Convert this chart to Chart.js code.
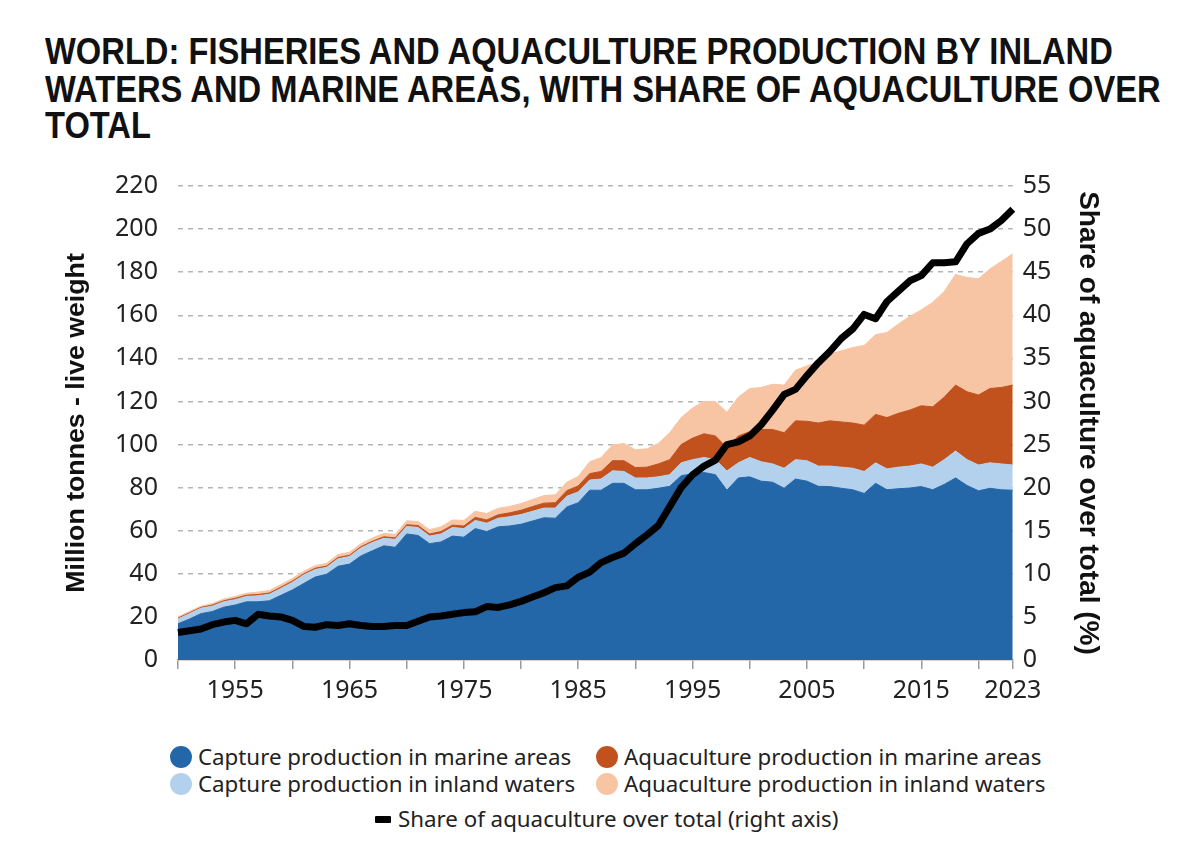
<!DOCTYPE html>
<html>
<head>
<meta charset="utf-8">
<script src="https://cdn.jsdelivr.net/npm/chart.js@4.4.0/dist/chart.umd.min.js"></script>
<style>
  body { margin: 0; background: #fff; width: 1200px; height: 850px; overflow: hidden; position: relative; }
  #title {
    position: absolute; left: 45px; top: 33px;
    font-family: 'Liberation Sans', Arial, sans-serif;
    font-weight: bold; font-size: 32.7px; line-height: 33.5px; color: #111;
    white-space: nowrap; transform: scaleY(1.11); transform-origin: 0 0;
  }
  #wrap { position: absolute; left: 0; top: 150px; width: 1200px; height: 566px; }
  .lg { position: absolute; font-family: 'Noto Sans', sans-serif; font-size: 22.3px; color: #222; white-space: nowrap; line-height: 26px; }
  .lg i { position: absolute; left: -28px; top: 2px; width: 22px; height: 22px; border-radius: 50%; }
  .lg i.dash { width: 16px; height: 7px; top: 10px; left: -23px; border-radius: 1px; }
</style>
</head>
<body>
<div id="title">WORLD: FISHERIES AND AQUACULTURE PRODUCTION BY INLAND<br>WATERS AND MARINE AREAS, WITH SHARE OF AQUACULTURE OVER<br>TOTAL</div>
<div id="wrap"><canvas id="chart"></canvas></div>
<div id="legend"></div>
<script>
// Valori (milioni di tonnellate, peso vivo)
const years = [1950, 1951, 1952, 1953, 1954, 1955, 1956, 1957, 1958, 1959,
  1960, 1961, 1962, 1963, 1964, 1965, 1966, 1967, 1968, 1969,
  1970, 1971, 1972, 1973, 1974, 1975, 1976, 1977, 1978, 1979,
  1980, 1981, 1982, 1983, 1984, 1985, 1986, 1987, 1988, 1989,
  1990, 1991, 1992, 1993, 1994, 1995, 1996, 1997, 1998, 1999,
  2000, 2001, 2002, 2003, 2004, 2005, 2006, 2007, 2008, 2009,
  2010, 2011, 2012, 2013, 2014, 2015, 2016, 2017, 2018, 2019,
  2020, 2021, 2022, 2023];

const captureMarine = [16.8, 19.0, 21.5, 22.5, 24.5, 25.5, 27.0, 27.0, 27.5, 30.0,
  32.5, 35.5, 38.5, 39.8, 43.5, 44.5, 48.3, 50.7, 53.0, 52.3,
  58.5, 57.8, 54.0, 54.8, 57.5, 57.0, 61.0, 59.6, 61.8, 62.2,
  63.0, 64.5, 66.0, 65.8, 71.0, 73.0, 78.8, 78.8, 82.0, 82.0,
  79.0, 79.0, 79.7, 80.6, 85.5, 86.5, 87.0, 86.0, 78.8, 84.5,
  85.0, 83.0, 82.5, 79.7, 84.0, 83.0, 80.6, 80.5, 79.7, 79.0,
  77.3, 82.0, 79.0, 79.5, 79.8, 80.5, 79.0, 81.5, 84.5, 81.0,
  78.5, 79.7, 79.0, 78.8];

const captureInland = [2.2, 2.5, 2.5, 2.5, 2.5, 2.5, 2.5, 2.8, 3.0, 3.2,
  3.5, 4.0, 3.5, 3.2, 3.5, 3.5, 3.7, 3.8, 3.5, 3.7,
  3.5, 3.7, 3.5, 3.7, 4.0, 4.0, 3.8, 3.9, 4.0, 4.3,
  4.5, 4.5, 4.5, 4.7, 5.0, 5.0, 4.7, 5.2, 5.8, 5.5,
  5.5, 5.5, 5.3, 5.4, 6.0, 6.5, 7.0, 7.0, 8.9, 7.0,
  9.0, 9.0, 8.5, 9.3, 9.0, 9.5, 9.4, 9.5, 9.8, 10.0,
  10.2, 9.5, 9.7, 10.0, 10.2, 10.5, 10.5, 11.5, 12.5, 12.0,
  12.0, 11.8, 12.0, 11.7];

const aquaMarine = [0.4, 0.4, 0.4, 0.5, 0.5, 0.6, 0.6, 0.6, 0.6, 0.6,
  0.6, 0.5, 0.6, 0.6, 0.6, 0.6, 0.6, 0.6, 0.7, 0.7,
  0.8, 0.9, 1.0, 1.1, 1.1, 1.2, 1.4, 1.5, 1.6, 1.8,
  2.0, 2.2, 2.3, 2.5, 2.6, 2.8, 3.0, 3.5, 4.7, 5.0,
  4.8, 5.0, 6.0, 7.0, 8.5, 10.0, 11.0, 11.0, 10.8, 12.5,
  12.0, 15.0, 16.0, 16.5, 18.0, 18.3, 20.0, 21.0, 21.0, 21.0,
  21.5, 22.5, 23.8, 25.0, 26.0, 27.0, 28.0, 29.0, 30.6, 31.5,
  32.5, 34.5, 35.5, 37.1];

const aquaInland = [0.6, 0.6, 0.6, 0.7, 0.8, 0.9, 0.9, 1.1, 1.2, 1.2,
  1.2, 1.2, 1.2, 1.3, 1.4, 1.4, 1.4, 1.5, 1.6, 1.6,
  1.8, 1.9, 2.0, 2.2, 2.4, 2.6, 2.8, 3.0, 3.0, 3.0,
  3.1, 3.3, 3.5, 3.7, 3.9, 4.4, 5.5, 6.5, 7.3, 8.0,
  8.3, 8.5, 9.5, 12.5, 12.5, 14.0, 15.0, 16.0, 16.5, 18.0,
  20.0, 19.5, 21.0, 22.1, 23.5, 25.7, 28.5, 31.0, 33.0, 35.0,
  37.0, 37.0, 39.5, 41.5, 43.5, 44.5, 48.5, 49.0, 51.4, 53.0,
  54.0, 55.5, 58.5, 60.9];

// quota acquacoltura sul totale (%)
const aquaShare = [3.2, 3.4, 3.6, 4.1, 4.4, 4.6, 4.2, 5.3, 5.1, 5.0,
  4.6, 3.9, 3.8, 4.1, 4.0, 4.2, 4.0, 3.9, 3.9, 4.0,
  4.0, 4.5, 5.0, 5.1, 5.3, 5.5, 5.6, 6.2, 6.1, 6.4,
  6.8, 7.3, 7.8, 8.4, 8.6, 9.6, 10.2, 11.3, 11.9, 12.4,
  13.5, 14.5, 15.6, 17.8, 20.0, 21.5, 22.5, 23.2, 25.0, 25.3,
  26.0, 27.3, 29.0, 30.8, 31.4, 33.0, 34.5, 35.8, 37.3, 38.4,
  40.1, 39.6, 41.6, 42.8, 44.0, 44.6, 46.1, 46.1, 46.2, 48.3,
  49.5, 50.0, 51.0, 52.3];

const leftTicks = [0, 20, 40, 60, 80, 100, 120, 140, 160, 180, 200, 220];
const rightTicks = [0, 5, 10, 15, 20, 25, 30, 35, 40, 45, 50, 55];
const labelYears = [1955, 1965, 1975, 1985, 1995, 2005, 2015, 2023];
const markYears = [1950, 1955, 1960, 1965, 1970, 1975, 1980, 1985, 1990, 1995, 2000, 2005, 2010, 2015, 2020, 2023];

const colors = {
  captureMarine: '#2467a9',
  captureInland: '#b3d1ec',
  aquaMarine: '#c1521e',
  aquaInland: '#f8c5a4',
  share: '#000000'
};

const tickFont = { family: "'Noto Sans', sans-serif", size: 25 };
const titleFontL = { family: "'Liberation Sans', Arial, sans-serif", size: 26.7, weight: 'bold' };
const titleFontR = { family: "'Liberation Sans', Arial, sans-serif", size: 28, weight: 'bold' };

function area(label, data, color, fill) {
  return {
    label: label, data: data, fill: fill,
    backgroundColor: color, borderColor: color, borderWidth: 1,
    pointRadius: 0, tension: 0, yAxisID: 'y', order: 1
  };
}

const ctx = document.getElementById('chart').getContext('2d');
new Chart(ctx, {
  type: 'line',
  data: {
    labels: years,
    datasets: [
      area('Capture production in marine areas', captureMarine, colors.captureMarine, 'origin'),
      area('Capture production in inland waters', captureInland, colors.captureInland, '-1'),
      area('Aquaculture production in marine areas', aquaMarine, colors.aquaMarine, '-1'),
      area('Aquaculture production in inland waters', aquaInland, colors.aquaInland, '-1'),
      {
        label: 'Share of aquaculture over total (right axis)',
        data: aquaShare, yAxisID: 'y1', fill: false,
        borderColor: colors.share, borderWidth: 7, borderJoinStyle: 'round',
        pointRadius: 0, tension: 0, order: -1
      }
    ]
  },
  options: {
    responsive: true,
    maintainAspectRatio: false,
    animation: false,
    layout: { padding: { left: 61, right: 80, top: 36, bottom: 3 } },
    plugins: { legend: { display: false }, tooltip: { enabled: false } },
    scales: {
      x: {
        offset: false,
        grid: {
          drawOnChartArea: false, tickLength: 9, lineWidth: 1.5,
          color: c => markYears.includes(years[c.index]) ? '#9a9a9a' : 'rgba(0,0,0,0)',
          tickColor: c => markYears.includes(years[c.index]) ? '#9a9a9a' : 'rgba(0,0,0,0)'
        },
        border: { display: true, color: '#a9a9a9', width: 1.5 },
        ticks: {
          autoSkip: false, maxRotation: 0, padding: 7, color: '#222', font: tickFont,
          callback: function (v, i) { return labelYears.includes(years[i]) ? String(years[i]) : ''; }
        }
      },
      y: {
        stacked: true, min: 0, max: 220,
        afterBuildTicks: s => { s.ticks = leftTicks.map(v => ({ value: v })); },
        grid: {
          drawTicks: false, lineWidth: 1.5,
          color: c => c.tick && c.tick.value === 0 ? 'rgba(0,0,0,0)' : '#b5b5b5'
        },
        border: { display: false, dash: [5, 5] },
        ticks: { padding: 20, color: '#222', font: tickFont },
        title: { display: true, text: 'Million tonnes - live weight', color: '#111', font: titleFontL, padding: { top: 0, bottom: 2 } }
      },
      y1: {
        position: 'right', min: 0, max: 55,
        afterBuildTicks: s => { s.ticks = rightTicks.map(v => ({ value: v })); },
        grid: { drawOnChartArea: false, drawTicks: false },
        border: { display: false },
        ticks: { padding: 10, color: '#222', font: tickFont },
        title: { display: true, text: 'Share of aquaculture over total (%)', color: '#111', font: titleFontR, padding: { top: 15, bottom: 10 } }
      }
    }
  }
});

// legenda HTML (due colonne + riga centrale)
const legendItems = [
  { text: 'Capture production in marine areas', color: colors.captureMarine, x: 198, y: 744 },
  { text: 'Aquaculture production in marine areas', color: colors.aquaMarine, x: 624, y: 744 },
  { text: 'Capture production in inland waters', color: colors.captureInland, x: 198, y: 771 },
  { text: 'Aquaculture production in inland waters', color: colors.aquaInland, x: 624, y: 771 },
  { text: 'Share of aquaculture over total (right axis)', color: colors.share, x: 398, y: 806, dash: true }
];
const legend = document.getElementById('legend');
legendItems.forEach(it => {
  const d = document.createElement('div');
  d.className = 'lg';
  d.style.left = it.x + 'px';
  d.style.top = it.y + 'px';
  const m = document.createElement('i');
  if (it.dash) m.className = 'dash';
  m.style.background = it.color;
  d.appendChild(m);
  d.appendChild(document.createTextNode(it.text));
  legend.appendChild(d);
});
</script>
</body>
</html>
